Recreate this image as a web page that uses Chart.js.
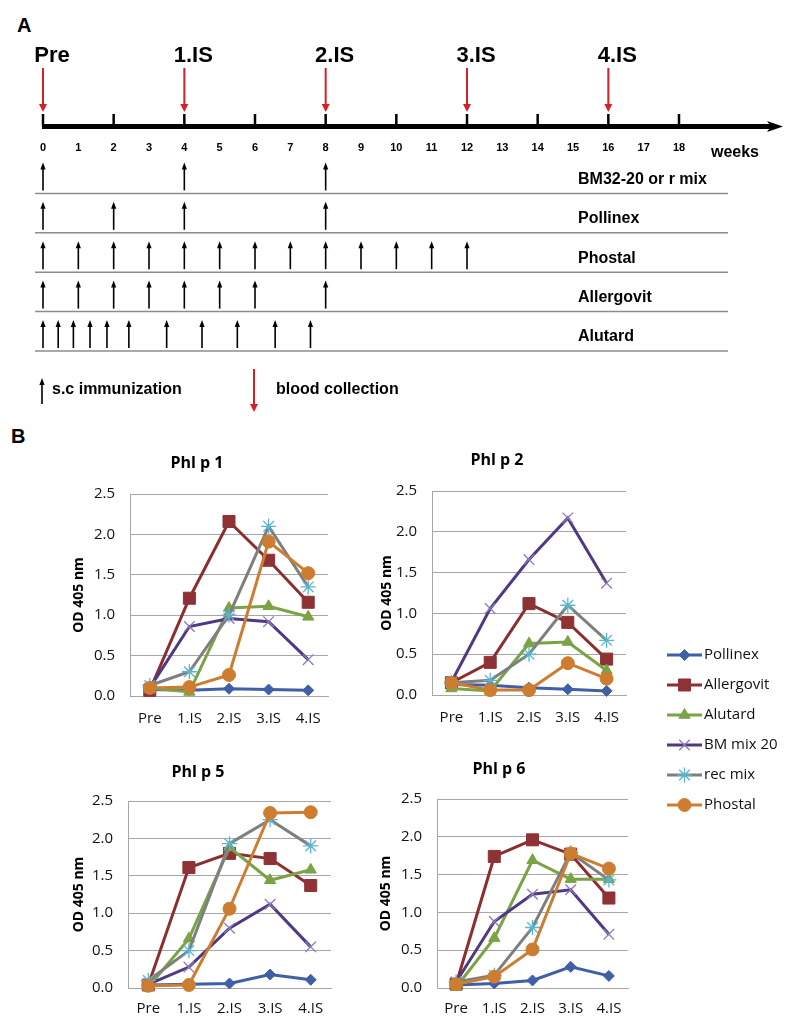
<!DOCTYPE html>
<html>
<head>
<meta charset="utf-8">
<script src="https://cdn.jsdelivr.net/npm/chart.js@4.4.1/dist/chart.umd.min.js"></script>
<style>
  html, body { margin: 0; padding: 0; background: #fff; }
  #fig { position: relative; width: 800px; height: 1031px; overflow: hidden; background: #fff; }
  #fig canvas { position: absolute; }
  .panel { position: absolute; font: bold 20px "Liberation Sans", Arial, sans-serif; color: #000; line-height: 23px; }
</style>
</head>
<body>
<div id="fig">
  <div class="panel" style="left:17px;top:14px">A</div>
  <div class="panel" style="left:11px;top:425px">B</div>
  <canvas id="schedule" width="800" height="420" style="left:0;top:0"></canvas>
  <canvas id="p1"></canvas>
  <canvas id="p2"></canvas>
  <canvas id="p5"></canvas>
  <canvas id="p6"></canvas>
  <canvas id="legend" width="145" height="200" style="left:655px;top:635px"></canvas>
</div>
<script>
// ---- panel A: immunization schedule (weeks) ----
var scheduleRows = ['BM32-20 or r mix', 'Pollinex', 'Phostal', 'Allergovit', 'Alutard'];
var bm32Weeks = [0, 4, 8];
var pollinexWeeks = [0, 2, 4, 8];
var phostalWeeks = [0, 1, 2, 3, 4, 5, 6, 7, 8, 9, 10, 11, 12];
var allergovitWeeks = [0, 1, 2, 3, 4, 5, 6, 8];
var alutardWeeks = [0, 0.43, 0.86, 1.33, 1.81, 2.43, 3.5, 4.5, 5.5, 6.57, 7.57];
var bleedWeeks = [0, 4, 8, 12, 16];
var bleedLabels = ['Pre', '1.IS', '2.IS', '3.IS', '4.IS'];
var weekLabels = [0, 1, 2, 3, 4, 5, 6, 7, 8, 9, 10, 11, 12, 13, 14, 15, 16, 17, 18];
var tickMarkWeeks = [0, 2, 4, 6, 8, 10, 12, 14, 16, 18];

// ---- panel B: OD 405 nm per group and timepoint ----
var timepoints = ['Pre', '1.IS', '2.IS', '3.IS', '4.IS'];
var groups = ['Pollinex', 'Allergovit', 'Alutard', 'BM mix 20', 'rec mix', 'Phostal'];

var pollinex1   = [0.08, 0.07, 0.09, 0.08, 0.07];
var allergovit1 = [0.07, 1.21, 2.16, 1.68, 1.16];
var alutard1    = [0.10, 0.05, 1.09, 1.11, 0.98];
var bmmix1      = [0.10, 0.86, 0.96, 0.92, 0.45];
var recmix1     = [0.13, 0.30, 1.00, 2.10, 1.35];
var phostal1    = [0.10, 0.11, 0.26, 1.91, 1.52];

var pollinex2   = [0.13, 0.12, 0.09, 0.07, 0.05];
var allergovit2 = [0.15, 0.40, 1.12, 0.89, 0.44];
var alutard2    = [0.08, 0.05, 0.63, 0.65, 0.30];
var bmmix2      = [0.16, 1.06, 1.66, 2.17, 1.37];
var recmix2     = [0.15, 0.18, 0.50, 1.10, 0.67];
var phostal2    = [0.15, 0.06, 0.06, 0.39, 0.20];

var pollinex5   = [0.04, 0.05, 0.06, 0.18, 0.11];
var allergovit5 = [0.04, 1.61, 1.80, 1.73, 1.37];
var alutard5    = [0.01, 0.66, 1.88, 1.44, 1.58];
var bmmix5      = [0.05, 0.28, 0.80, 1.12, 0.55];
var recmix5     = [0.10, 0.50, 1.93, 2.25, 1.90];
var phostal5    = [0.03, 0.04, 1.06, 2.34, 2.35];

var pollinex6   = [0.04, 0.06, 0.10, 0.28, 0.16];
var allergovit6 = [0.05, 1.74, 1.96, 1.77, 1.19];
var alutard6    = [0.01, 0.66, 1.69, 1.44, 1.44];
var bmmix6      = [0.08, 0.88, 1.24, 1.30, 0.71];
var recmix6     = [0.08, 0.17, 0.80, 1.79, 1.43];
var phostal6    = [0.05, 0.15, 0.51, 1.78, 1.58];

var lineColors   = ['#3F5FA6', '#8C2E30', '#79A345', '#4F3985', '#7F7F7F', '#CD7D30'];
var markerFills  = ['#3F5FA6', '#8E3236', '#79A345', '#8C7AB8', '#5BB5CF', '#CD7D30'];
var pointStyles  = ['rectRot', 'rect', 'triangle', 'crossRot', 'star', 'circle'];
var pointRadii   = [5.5, 8.5, 6.5, 7.5, 7.5, 6.5];
var pointBorders = [1, 1, 1, 1.3, 1.3, 1];

var SANS = '"Liberation Sans", Arial, sans-serif';
var CHART_FONT = '"Open Sans", Lato, sans-serif';

function line(ctx, x1, y1, x2, y2) {
  ctx.beginPath(); ctx.moveTo(x1, y1); ctx.lineTo(x2, y2); ctx.stroke();
}

// vertical arrow, tip at yTip
function arrow(ctx, x, yFrom, yTip, color, lw, halfW, headLen) {
  var dir = yTip < yFrom ? 1 : -1;
  ctx.strokeStyle = color; ctx.fillStyle = color; ctx.lineWidth = lw;
  line(ctx, x, yFrom, x, yTip + dir * (headLen - 1));
  ctx.beginPath();
  ctx.moveTo(x, yTip);
  ctx.lineTo(x - halfW, yTip + dir * headLen);
  ctx.lineTo(x + halfW, yTip + dir * headLen);
  ctx.closePath(); ctx.fill();
}

var schedulePlugin = {
  id: 'schedule',
  afterDatasetsDraw: function (chart) {
    var ctx = chart.ctx, xs = chart.scales.x, ys = chart.scales.y;
    ctx.save();

    // blood collections on top
    bleedWeeks.forEach(function (w, i) {
      var x = xs.getPixelForValue(w);
      ctx.fillStyle = '#000'; ctx.font = 'bold 22px ' + SANS;
      ctx.textAlign = 'center'; ctx.textBaseline = 'alphabetic';
      ctx.fillText(bleedLabels[i], x + 9, 62);
      arrow(ctx, x, 68, 112, '#D42027', 2, 4, 8);
    });

    // time axis
    var x0 = xs.getPixelForValue(0);
    ctx.strokeStyle = '#000'; ctx.lineWidth = 5;
    line(ctx, x0 - 1, 126.5, xs.right + 94, 126.5);
    ctx.fillStyle = '#000';
    ctx.beginPath();
    ctx.moveTo(xs.right + 104, 126.5);
    ctx.lineTo(xs.right + 88, 121);
    ctx.lineTo(xs.right + 92, 126.5);
    ctx.lineTo(xs.right + 88, 132);
    ctx.closePath(); ctx.fill();
    ctx.lineWidth = 2.5;
    tickMarkWeeks.forEach(function (w) {
      var x = xs.getPixelForValue(w);
      line(ctx, x, 114, x, 126);
    });
    ctx.font = 'bold 11px ' + SANS; ctx.textBaseline = 'middle'; ctx.textAlign = 'center';
    weekLabels.forEach(function (w) {
      ctx.fillText(String(w), xs.getPixelForValue(w), 148);
    });
    ctx.font = 'bold 16px ' + SANS;
    ctx.fillText('weeks', 735, 153);

    // immunization rows
    chart.data.datasets.forEach(function (ds, i) {
      var yLine = ys.getPixelForValue(i + 0.5);
      ctx.strokeStyle = '#8C8C8C'; ctx.lineWidth = 1.5;
      line(ctx, 35, yLine, 728, yLine);
      ctx.fillStyle = '#000'; ctx.font = 'bold 16px ' + SANS;
      ctx.textAlign = 'left'; ctx.textBaseline = 'middle';
      ctx.fillText(ds.label, 578, yLine - 14);
      ds.data.forEach(function (p) {
        arrow(ctx, xs.getPixelForValue(p.x), yLine - 3, yLine - 31, '#000', 1.6, 2.6, 7);
      });
    });

    // key
    arrow(ctx, x0 - 1, 404, 378, '#000', 1.6, 2.6, 7);
    arrow(ctx, 254, 369, 412, '#D42027', 2, 4, 8);
    ctx.fillStyle = '#000'; ctx.font = 'bold 16px ' + SANS;
    ctx.textAlign = 'left'; ctx.textBaseline = 'middle';
    ctx.fillText('s.c immunization', 52, 390);
    ctx.fillText('blood collection', 276, 390);

    ctx.restore();
  }
};

var rowWeeks = [bm32Weeks, pollinexWeeks, phostalWeeks, allergovitWeeks, alutardWeeks];

new Chart(document.getElementById('schedule').getContext('2d'), {
  type: 'scatter',
  data: {
    datasets: scheduleRows.map(function (name, i) {
      return {
        label: name,
        data: rowWeeks[i].map(function (w) { return { x: w, y: i }; }),
        pointRadius: 0,
        showLine: false
      };
    })
  },
  options: {
    responsive: false,
    animation: false,
    layout: { padding: { left: 43, right: 121, top: 154, bottom: 69 } },
    plugins: { legend: { display: false }, tooltip: { enabled: false } },
    scales: {
      x: { type: 'linear', display: false, min: 0, max: 18 },
      y: { type: 'linear', display: false, min: -0.5, max: 4.5, reverse: true }
    }
  },
  plugins: [schedulePlugin]
});

function buildSeries(values) {
  return groups.map(function (g, i) {
    return {
      label: g,
      data: values[i],
      borderColor: lineColors[i],
      backgroundColor: lineColors[i],
      borderWidth: 3,
      tension: 0,
      pointStyle: pointStyles[i],
      pointRadius: pointRadii[i],
      pointHoverRadius: pointRadii[i],
      pointBackgroundColor: markerFills[i],
      pointBorderColor: markerFills[i],
      pointBorderWidth: pointBorders[i],
      order: groups.length - i,
      clip: false
    };
  });
}

function makePanel(id, title, values, box) {
  var left = 2 * box.titleX - box.plotR;
  var padR = 10;
  var width = box.plotR - left + padR;
  var top = box.plotT - 50;
  var height = (box.plotB - box.plotT) + 50 + 40;
  var canvas = document.getElementById(id);
  canvas.width = width; canvas.height = height;
  canvas.style.left = left + 'px'; canvas.style.top = top + 'px';

  var yAxisWidth = box.plotL - left;
  var titleTop = box.titleY - top - 9.6;
  var yTitlePad = box.yTitleX - left - 8.4;

  return new Chart(canvas.getContext('2d'), {
    type: 'line',
    data: { labels: timepoints, datasets: buildSeries(values) },
    options: {
      responsive: false,
      animation: false,
      layout: { padding: { left: 0, right: padR, top: 0, bottom: 0 } },
      plugins: {
        legend: { display: false },
        tooltip: { enabled: false },
        title: {
          display: true, text: title, color: '#000',
          font: { family: CHART_FONT, size: 16, weight: 'bold', lineHeight: 1.2 },
          padding: { top: titleTop, bottom: 50 - 19.2 - titleTop }
        }
      },
      scales: {
        x: {
          offset: true,
          grid: { display: false, drawTicks: false },
          border: { display: true, color: '#A6A6A6', width: 1 },
          ticks: { color: '#111', padding: box.xGap - 9, font: { family: CHART_FONT, size: 15 } },
          afterFit: function (scale) { scale.height = 40; }
        },
        y: {
          min: 0, max: 2.5,
          grid: { color: '#A6A6A6', lineWidth: 1, drawTicks: false },
          border: { display: true, color: '#A6A6A6', width: 1 },
          ticks: {
            stepSize: 0.5, color: '#111', padding: 15,
            font: { family: CHART_FONT, size: 15 },
            callback: function (v) { return Number(v).toFixed(1); }
          },
          title: {
            display: true, text: 'OD 405 nm', color: '#000',
            font: { family: CHART_FONT, size: 14, weight: 'bold', lineHeight: 1.2 },
            padding: { top: yTitlePad, bottom: 0 }
          },
          afterFit: function (scale) { scale.width = yAxisWidth; }
        }
      }
    }
  });
}

makePanel('p1', 'Phl p 1', [pollinex1, allergovit1, alutard1, bmmix1, recmix1, phostal1],
  { plotL: 130, plotT: 494, plotR: 328, plotB: 696, titleX: 197, titleY: 463, yTitleX: 79, xGap: 23 });
makePanel('p2', 'Phl p 2', [pollinex2, allergovit2, alutard2, bmmix2, recmix2, phostal2],
  { plotL: 432, plotT: 491, plotR: 626, plotB: 695, titleX: 497, titleY: 460, yTitleX: 387, xGap: 23 });
makePanel('p5', 'Phl p 5', [pollinex5, allergovit5, alutard5, bmmix5, recmix5, phostal5],
  { plotL: 128, plotT: 801, plotR: 331, plotB: 988, titleX: 198, titleY: 772, yTitleX: 79, xGap: 21 });
makePanel('p6', 'Phl p 6', [pollinex6, allergovit6, alutard6, bmmix6, recmix6, phostal6],
  { plotL: 437, plotT: 799, plotR: 628, plotB: 988, titleX: 499, titleY: 769, yTitleX: 386, xGap: 21 });

// shared legend, drawn like the spreadsheet legend (line through marker)
var legendPlugin = {
  id: 'excelLegend',
  afterDraw: function (chart) {
    var ctx = chart.ctx;
    chart.data.datasets.forEach(function (ds, i) {
      var y = 20 + i * 30;
      ctx.save();
      ctx.strokeStyle = ds.borderColor; ctx.lineWidth = 3;
      line(ctx, 12, y, 47, y);
      ctx.fillStyle = ds.pointBackgroundColor;
      ctx.strokeStyle = ds.pointBorderColor;
      ctx.lineWidth = ds.pointBorderWidth;
      Chart.helpers.drawPoint(ctx, {
        pointStyle: ds.pointStyle, radius: ds.pointRadius, rotation: 0, borderWidth: ds.pointBorderWidth
      }, 29.5, y);
      ctx.fillStyle = '#111'; ctx.font = '15px ' + CHART_FONT;
      ctx.textAlign = 'left'; ctx.textBaseline = 'middle';
      ctx.fillText(ds.label, 49, y);
      ctx.restore();
    });
  }
};

new Chart(document.getElementById('legend').getContext('2d'), {
  type: 'line',
  data: {
    labels: [],
    datasets: buildSeries(groups.map(function () { return []; }))
  },
  options: {
    responsive: false,
    animation: false,
    plugins: { legend: { display: false }, tooltip: { enabled: false } },
    scales: { x: { display: false }, y: { display: false } }
  },
  plugins: [legendPlugin]
});
</script>
</body>
</html>
